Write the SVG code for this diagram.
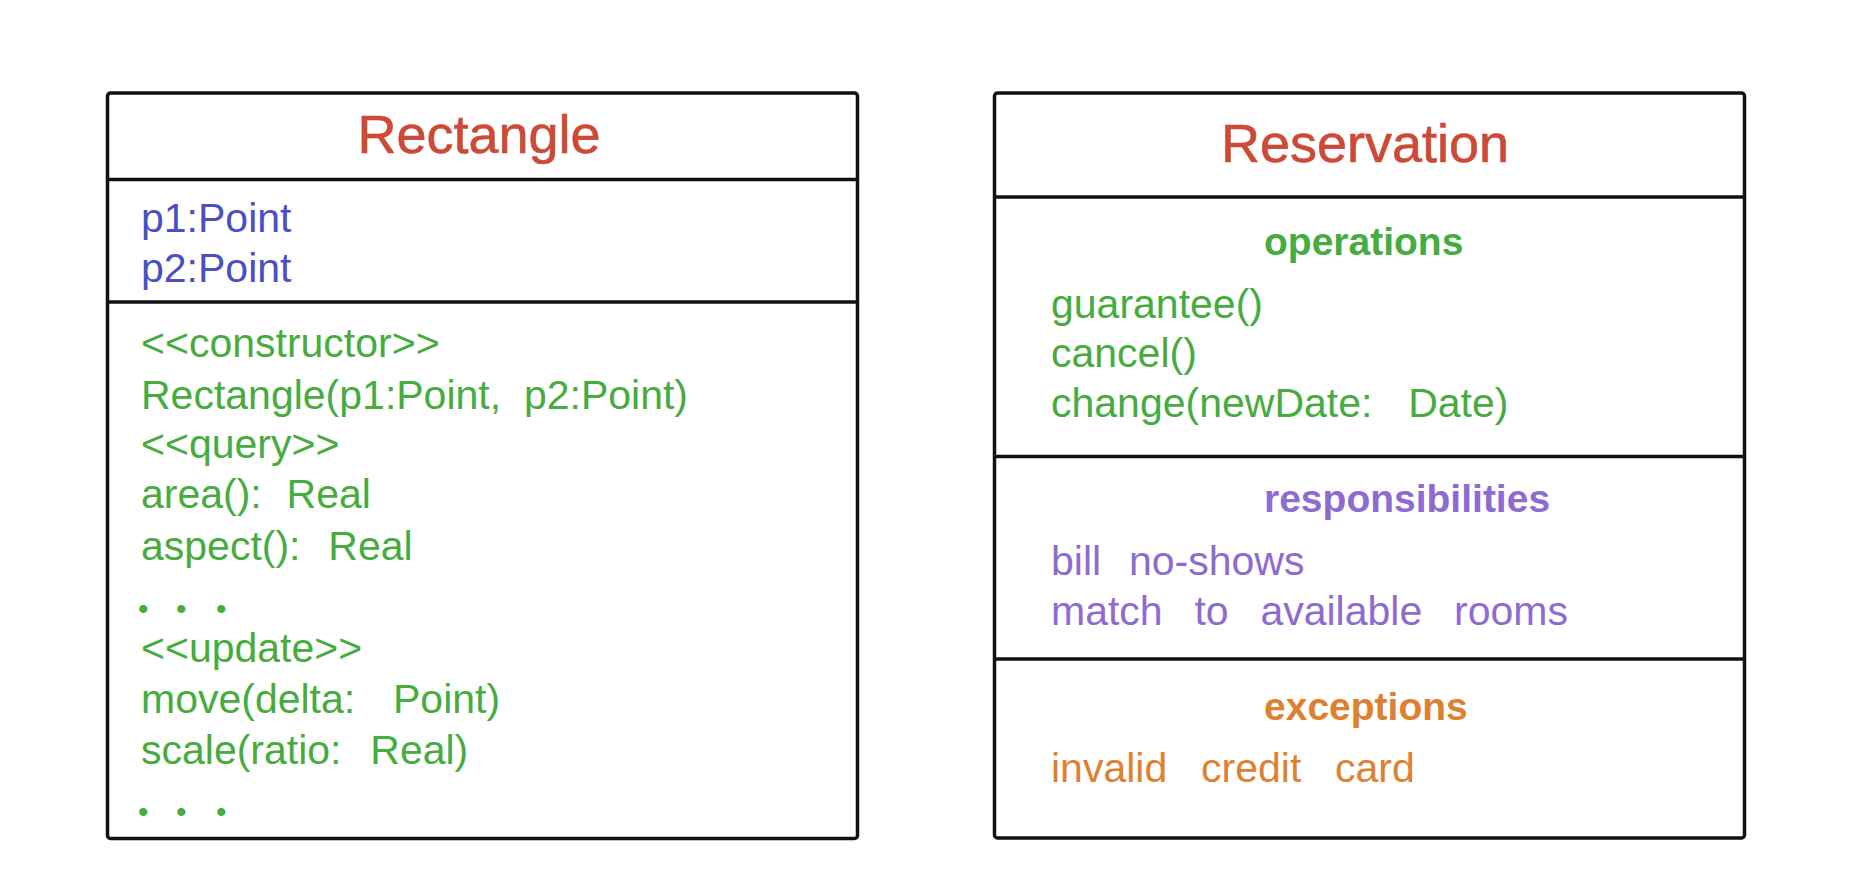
<svg xmlns="http://www.w3.org/2000/svg" width="1852" height="870" viewBox="0 0 1852 870">
<style>
.box{fill:#fff;stroke:#111;stroke-width:3.5;stroke-linejoin:round}
.div{stroke:#111;stroke-width:3.5}
text{font-family:"Liberation Sans",Arial,sans-serif;white-space:pre}
.title{font-size:54px;fill:#cc4a36;stroke:#cc4a36;stroke-width:0.6;text-anchor:middle}
.body{font-size:41px}
.head{font-size:39px;font-weight:bold}
.dots{font-size:30px;fill:#46ac3e}
.blue{fill:#4a4fc4}
.green{fill:#46ac3e}
.purple{fill:#8e6bd0}
.orange{fill:#de8030}
</style>
<rect width="1852" height="870" fill="#fff"/>
<g id="rectangle">
<rect class="box" x="107.5" y="93" width="750" height="745.5" rx="3"/>
<line class="div" x1="107.5" y1="179.5" x2="857.5" y2="179.5"/>
<line class="div" x1="107.5" y1="302" x2="857.5" y2="302"/>
<text class="title" x="479" y="153">Rectangle</text>
<text class="body blue" x="141" y="232">p1:Point</text>
<text class="body blue" x="141" y="282">p2:Point</text>
<text class="body green" x="141" y="357">&lt;&lt;constructor&gt;&gt;</text>
<text class="body green" x="141" y="409">Rectangle(p1:Point,  p2:Point)</text>
<text class="body green" x="141" y="458">&lt;&lt;query&gt;&gt;</text>
<text class="body green" x="141" y="508" word-spacing="1">area():  Real</text>
<text class="body green" x="141" y="560" word-spacing="2.5">aspect():  Real</text>
<text class="dots" x="138 176 216" y="619">•••</text>
<text class="body green" x="141" y="662">&lt;&lt;update&gt;&gt;</text>
<text class="body green" x="141" y="713" word-spacing="7.5">move(delta:  Point)</text>
<text class="body green" x="141" y="764" word-spacing="3">scale(ratio:  Real)</text>
<text class="dots" x="138 176 216" y="822">•••</text>
</g>
<g id="reservation">
<rect class="box" x="994.5" y="93" width="750" height="745" rx="3"/>
<line class="div" x1="994.5" y1="197" x2="1744.5" y2="197"/>
<line class="div" x1="994.5" y1="456.5" x2="1744.5" y2="456.5"/>
<line class="div" x1="994.5" y1="659" x2="1744.5" y2="659"/>
<text class="title" x="1365" y="162">Reservation</text>
<text class="head green" x="1264" y="255">operations</text>
<text class="body green" x="1051" y="318">guarantee()</text>
<text class="body green" x="1051" y="367">cancel()</text>
<text class="body green" x="1051" y="417" word-spacing="6.5">change(newDate:  Date)</text>
<text class="head purple" x="1264" y="512">responsibilities</text>
<text class="body purple" x="1051" y="575" word-spacing="2.5">bill  no-shows</text>
<text class="body purple" x="1051" y="625" word-spacing="4.5">match  to  available  rooms</text>
<text class="head orange" x="1264" y="720">exceptions</text>
<text class="body orange" x="1051" y="782" word-spacing="5.5">invalid  credit  card</text>
</g>
<g id="connectors"/>
</svg>
